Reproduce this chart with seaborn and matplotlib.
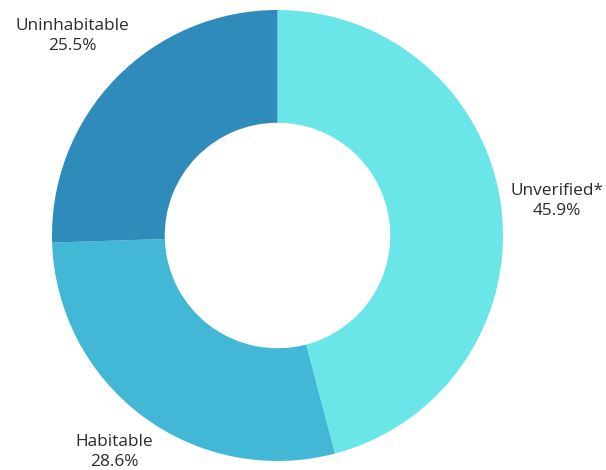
import matplotlib.pyplot as plt
import seaborn as sns

labels = ['Unverified*', 'Habitable', 'Uninhabitable']
shares = [45.9, 28.6, 25.5]
colors = ['#6ae6e8', '#42b8d6', '#2e8bbb']

sns.set_theme(style='white')
plt.rcParams['font.family'] = ['Open Sans', 'DejaVu Sans']
palette = sns.color_palette(colors)

fig = plt.figure(figsize=(6.06, 4.70), dpi=100)
ax = fig.add_axes([0, 0, 1, 1])

cx, cy, r = 277.5, 234.5, 225.5
ax.pie(shares, colors=palette, startangle=90, counterclock=False,
       center=(cx, cy), radius=r, frame=True,
       wedgeprops=dict(width=r * 0.5, linewidth=0))
ax.set_xlim(0, 606)
ax.set_ylim(0, 470)
ax.set_aspect('equal')
ax.axis('off')

label_pos = [(557, 269), (114, 18), (72, 434)]
for name, val, (x, y) in zip(labels, shares, label_pos):
    ax.text(x, y, f'{name}\n{val:.1f}%', ha='center', va='center',
            fontsize=12.4, color='#2b2b2b', linespacing=1.4)

fig.savefig('out.png', dpi=100)
